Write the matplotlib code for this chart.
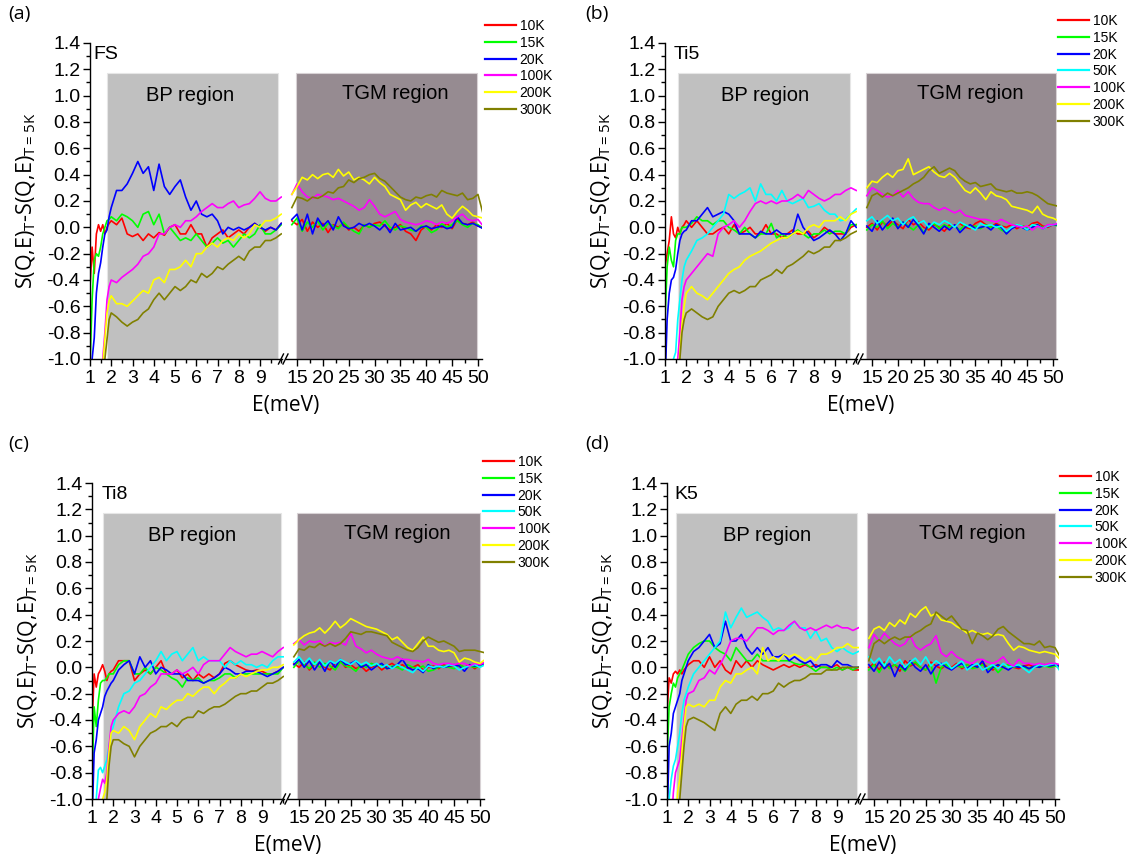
import matplotlib
matplotlib.use("Agg")
import matplotlib.pyplot as plt
from matplotlib.lines import Line2D
from matplotlib.ticker import FixedLocator, FuncFormatter

plt.rcParams['font.family'] = ['Liberation Sans', 'DejaVu Sans']
plt.rcParams['axes.unicode_minus'] = False

# ---------------- x grids (meV) ----------------
E_LEFT = [1.0, 1.1, 1.2, 1.3, 1.4, 1.5, 1.6, 1.7, 1.8, 1.9, 2.0,
          2.25, 2.5, 2.75, 3.0, 3.25, 3.5, 3.75, 4.0, 4.25, 4.5, 4.75, 5.0,
          5.25, 5.5, 5.75, 6.0, 6.25, 6.5, 6.75, 7.0, 7.25, 7.5, 7.75, 8.0,
          8.25, 8.5, 8.75, 9.0, 9.25, 9.5, 9.75, 10.0]
E_RIGHT = [14, 15, 16, 17, 18, 19, 20, 21, 22, 23, 24, 25, 26, 27, 28, 29, 30,
           31, 32, 33, 34, 35, 36, 37, 38, 39, 40, 41, 42, 43, 44, 45, 46, 47,
           48, 49, 50, 51]

TEMPS = ['10K', '15K', '20K', '50K', '100K', '200K', '300K']
COLORS = {'10K': '#ff0000', '15K': '#00ff00', '20K': '#0000ff', '50K': '#00ffff',
          '100K': '#ff00ff', '200K': '#ffff00', '300K': '#808000'}

# ---------------- (a) FS ----------------
FS_10K_L = [-0.45, -0.15, -0.35, -0.05, 0.02, -0.03, 0.02, -0.05, 0.00, 0.03, 0.05,
            0.02, 0.07, -0.05, -0.07, -0.05, -0.10, -0.05, -0.08, -0.04, -0.06, 0.00, 0.02, -0.05, -0.05, 0.02,
            -0.05, -0.05, -0.15, -0.08, -0.05, -0.02, -0.08, -0.05, -0.02, -0.05, 0.00, 0.03, 0.00, -0.03, 0.00, -0.02, 0.03]
FS_15K_L = [-1.05, -0.55, -0.25, -0.20, -0.22, -0.15, -0.05, 0.00, 0.05, 0.06, 0.08,
            0.05, 0.10, 0.08, 0.05, 0.00, 0.10, 0.12, 0.02, 0.10, -0.05, 0.00, -0.05, -0.10, -0.08, -0.10,
            -0.05, -0.10, -0.15, -0.12, -0.08, -0.12, -0.10, -0.15, -0.10, -0.05, -0.08, -0.05, 0.02, -0.05, -0.05, -0.02, 0.02]
FS_20K_L = [-1.20, -1.00, -0.84, -0.50, -0.35, -0.27, -0.15, -0.05, -0.02, 0.08, 0.15,
            0.28, 0.28, 0.33, 0.41, 0.50, 0.41, 0.46, 0.28, 0.48, 0.31, 0.25, 0.31, 0.36, 0.23, 0.13,
            0.20, 0.10, 0.08, 0.10, 0.05, -0.05, 0.00, -0.02, 0.00, -0.02, 0.00, 0.03, 0.00, -0.02, 0.00, -0.02, 0.03]
FS_100K_L = [-1.20, -1.20, -1.20, -1.20, -1.20, -1.20, -1.00, -0.80, -0.55, -0.45, -0.40,
             -0.42, -0.38, -0.35, -0.32, -0.28, -0.22, -0.20, -0.15, -0.05, -0.05, 0.00, 0.02, 0.00, 0.05, 0.05,
             0.08, 0.12, 0.15, 0.18, 0.15, 0.15, 0.18, 0.20, 0.15, 0.17, 0.18, 0.22, 0.27, 0.22, 0.20, 0.20, 0.23]
FS_200K_L = [-1.20, -1.20, -1.20, -1.20, -1.20, -1.20, -1.05, -0.85, -0.65, -0.56, -0.52,
             -0.58, -0.58, -0.60, -0.56, -0.52, -0.48, -0.50, -0.40, -0.38, -0.42, -0.32, -0.32, -0.30, -0.25, -0.30,
             -0.20, -0.20, -0.15, -0.12, -0.15, -0.10, -0.08, -0.10, -0.05, -0.08, -0.05, 0.02, 0.00, 0.05, 0.05, 0.07, 0.10]
FS_300K_L = [-1.20, -1.20, -1.20, -1.20, -1.20, -1.20, -1.20, -1.00, -0.85, -0.70, -0.65,
             -0.68, -0.72, -0.75, -0.72, -0.70, -0.65, -0.62, -0.55, -0.50, -0.55, -0.50, -0.45, -0.48, -0.45, -0.40,
             -0.42, -0.35, -0.38, -0.35, -0.30, -0.32, -0.28, -0.25, -0.22, -0.25, -0.18, -0.15, -0.15, -0.10, -0.10, -0.08, -0.05]

FS_10K_R = [0.05, 0.02, 0.06, -0.03, 0.04, 0.00, 0.03, -0.04, 0.02, 0.00,
            0.03, -0.02, 0.00, -0.03, 0.02, 0.00, 0.03, 0.04, 0.01, -0.02,
            0.00, 0.02, -0.03, -0.05, -0.10, -0.02, 0.01, -0.02, 0.02, 0.00,
            0.03, -0.01, 0.06, 0.03, 0.02, 0.04, 0.01, 0.00]
FS_15K_R = [0.02, 0.07, -0.03, 0.04, 0.00, 0.05, -0.02, 0.03, 0.01, -0.01,
            0.04, 0.00, -0.03, -0.05, 0.02, 0.00, 0.02, 0.01, 0.05, 0.00,
            -0.02, 0.01, 0.00, -0.02, -0.03, 0.01, 0.00, -0.04, -0.02, 0.03,
            0.00, 0.02, 0.05, 0.02, 0.00, 0.03, 0.02, -0.01]
FS_20K_R = [0.06, 0.10, -0.02, 0.10, -0.05, 0.07, 0.01, 0.05, -0.02, 0.08,
            0.01, -0.01, 0.00, 0.03, 0.01, 0.03, 0.01, -0.02, 0.02, -0.04,
            0.03, -0.02, -0.01, 0.00, -0.03, 0.00, 0.01, -0.01, 0.00, 0.01,
            -0.01, 0.00, 0.08, 0.03, 0.02, 0.03, 0.01, -0.01]
FS_100K_R = [0.25, 0.33, 0.27, 0.23, 0.22, 0.25, 0.24, 0.23, 0.21, 0.22,
             0.20, 0.18, 0.16, 0.13, 0.15, 0.21, 0.16, 0.10, 0.08, 0.10,
             0.12, 0.06, 0.04, 0.03, 0.02, 0.03, 0.05, 0.04, 0.02, 0.04,
             0.03, 0.05, 0.08, 0.10, 0.06, 0.05, 0.06, 0.01]
FS_200K_R = [0.25, 0.31, 0.38, 0.36, 0.40, 0.37, 0.40, 0.41, 0.38, 0.44,
             0.39, 0.42, 0.36, 0.38, 0.36, 0.33, 0.38, 0.34, 0.31, 0.25,
             0.23, 0.21, 0.13, 0.17, 0.19, 0.15, 0.18, 0.16, 0.14, 0.17,
             0.10, 0.07, 0.12, 0.16, 0.13, 0.09, 0.08, 0.07]
FS_300K_R = [0.15, 0.23, 0.22, 0.20, 0.23, 0.22, 0.24, 0.27, 0.26, 0.30,
             0.31, 0.36, 0.34, 0.37, 0.38, 0.40, 0.41, 0.37, 0.35, 0.31,
             0.27, 0.23, 0.21, 0.20, 0.23, 0.22, 0.24, 0.25, 0.23, 0.28,
             0.26, 0.25, 0.24, 0.26, 0.21, 0.22, 0.25, 0.10]

# ---------------- (b) Ti5 ----------------
TI5_10K_L = [-0.30, -0.20, -0.10, 0.08, -0.05, -0.08, 0.00, -0.05, 0.00, 0.02, 0.05,
             0.00, 0.05, 0.00, -0.05, -0.05, -0.02, 0.00, -0.05, 0.02, -0.05, -0.03, 0.00, -0.05, -0.05, 0.02,
             -0.05, -0.05, -0.08, -0.05, -0.02, -0.05, -0.05, -0.03, -0.08, -0.05, 0.00, -0.03, -0.05, -0.05, -0.05, 0.00, 0.02]
TI5_15K_L = [-0.70, -0.30, -0.15, -0.25, -0.30, -0.10, -0.05, -0.05, 0.00, 0.00, 0.00,
             0.03, 0.08, 0.05, 0.05, 0.02, 0.05, 0.05, 0.00, -0.02, -0.05, 0.00, -0.05, -0.08, -0.05, -0.05,
             0.03, -0.08, -0.05, -0.08, -0.05, -0.02, -0.05, -0.08, -0.05, -0.05, -0.02, -0.05, -0.03, -0.03, -0.05, 0.02, 0.02]
TI5_20K_L = [-1.20, -0.70, -0.50, -0.40, -0.38, -0.32, -0.20, -0.10, -0.05, -0.03, -0.02,
             0.05, 0.05, 0.10, 0.15, 0.08, 0.10, 0.12, 0.10, 0.05, -0.05, -0.05, -0.05, -0.08, -0.03, -0.05,
             -0.05, -0.02, -0.05, -0.05, -0.05, 0.10, 0.00, -0.05, -0.10, -0.08, -0.05, -0.02, -0.05, -0.10, -0.05, 0.05, 0.00]
TI5_50K_L = [-1.20, -1.20, -1.20, -1.20, -1.00, -0.95, -0.70, -0.55, -0.40, -0.30, -0.25,
             -0.18, -0.10, -0.08, -0.05, 0.00, 0.05, 0.10, 0.25, 0.22, 0.25, 0.27, 0.30, 0.20, 0.33, 0.25,
             0.25, 0.20, 0.28, 0.20, 0.18, 0.20, 0.22, 0.15, 0.16, 0.18, 0.13, 0.10, 0.10, 0.05, 0.06, 0.10, 0.14]
TI5_100K_L = [-1.20, -1.20, -1.20, -1.20, -1.20, -1.20, -1.00, -0.80, -0.55, -0.45, -0.40,
              -0.35, -0.30, -0.25, -0.20, -0.22, -0.05, 0.00, 0.02, 0.05, 0.00, 0.05, 0.12, 0.18, 0.20, 0.18,
              0.20, 0.18, 0.20, 0.20, 0.22, 0.25, 0.22, 0.28, 0.25, 0.22, 0.20, 0.22, 0.25, 0.25, 0.28, 0.30, 0.28]
TI5_200K_L = [-1.20, -1.20, -1.20, -1.20, -1.20, -1.20, -1.20, -0.95, -0.75, -0.60, -0.50,
              -0.45, -0.50, -0.52, -0.55, -0.50, -0.45, -0.40, -0.35, -0.32, -0.30, -0.25, -0.22, -0.20, -0.18, -0.15,
              -0.12, -0.10, -0.08, -0.08, -0.05, -0.03, -0.05, 0.00, 0.02, 0.00, 0.05, 0.05, 0.05, 0.08, 0.05, 0.10, 0.12]
TI5_300K_L = [-1.20, -1.20, -1.20, -1.20, -1.20, -1.20, -1.20, -1.00, -0.80, -0.70, -0.65,
              -0.62, -0.65, -0.68, -0.70, -0.68, -0.60, -0.55, -0.50, -0.48, -0.50, -0.48, -0.45, -0.45, -0.40, -0.38,
              -0.36, -0.32, -0.35, -0.30, -0.28, -0.25, -0.22, -0.18, -0.20, -0.18, -0.15, -0.15, -0.10, -0.10, -0.08, -0.05, -0.03]

TI5_10K_R = [0.00, 0.03, -0.02, 0.04, 0.01, 0.05, 0.02, -0.01, 0.06, 0.02,
             0.04, 0.00, -0.02, 0.02, 0.00, -0.03, 0.02, 0.01, 0.03, 0.00,
             -0.01, 0.03, 0.05, 0.02, 0.00, 0.03, 0.01, 0.00, 0.02, -0.01,
             0.01, 0.00, 0.03, 0.04, 0.01, 0.00, 0.02, 0.02]
TI5_15K_R = [-0.02, 0.02, 0.00, 0.05, -0.01, 0.03, 0.00, 0.04, 0.01, -0.02,
             0.02, -0.04, 0.01, 0.03, -0.01, 0.02, 0.00, 0.01, -0.02, 0.02,
             0.00, 0.01, -0.01, 0.02, 0.00, 0.01, -0.02, -0.04, 0.00, 0.02,
             0.01, 0.00, 0.01, 0.02, 0.00, 0.01, 0.02, 0.01]
TI5_20K_R = [0.01, -0.03, 0.05, -0.02, 0.03, 0.07, -0.01, 0.04, 0.00, 0.06,
             0.01, -0.05, 0.03, 0.00, -0.03, 0.01, -0.02, 0.02, -0.04, 0.00,
             0.02, -0.01, 0.00, 0.01, -0.02, 0.02, 0.00, -0.05, -0.01, 0.01,
             0.00, -0.02, 0.00, 0.02, -0.01, 0.01, 0.02, 0.02]
TI5_50K_R = [0.05, 0.08, 0.03, 0.06, 0.09, 0.05, 0.07, 0.02, 0.06, 0.08,
             0.03, 0.05, 0.00, 0.04, 0.02, 0.05, 0.03, 0.00, 0.04, 0.02,
             0.00, -0.02, 0.03, 0.01, 0.02, 0.00, 0.01, -0.03, 0.00, 0.02,
             0.01, -0.02, 0.02, 0.01, -0.01, 0.01, 0.02, 0.03]
TI5_100K_R = [0.24, 0.30, 0.28, 0.25, 0.23, 0.24, 0.28, 0.23, 0.27, 0.22,
              0.19, 0.18, 0.18, 0.15, 0.13, 0.15, 0.13, 0.11, 0.13, 0.09,
              0.08, 0.07, 0.06, 0.06, 0.05, 0.04, 0.06, 0.04, 0.02, 0.01,
              0.00, 0.01, -0.02, 0.01, -0.01, 0.02, 0.02, 0.03]
TI5_200K_R = [0.30, 0.35, 0.34, 0.38, 0.41, 0.38, 0.43, 0.44, 0.52, 0.40,
              0.42, 0.44, 0.46, 0.42, 0.39, 0.38, 0.41, 0.38, 0.33, 0.28,
              0.26, 0.30, 0.26, 0.21, 0.27, 0.24, 0.23, 0.21, 0.16, 0.15,
              0.14, 0.13, 0.11, 0.16, 0.10, 0.08, 0.07, 0.05]
TI5_300K_R = [0.15, 0.24, 0.26, 0.23, 0.26, 0.24, 0.26, 0.28, 0.30, 0.33,
              0.35, 0.38, 0.43, 0.46, 0.41, 0.43, 0.45, 0.43, 0.38, 0.35,
              0.33, 0.34, 0.31, 0.32, 0.33, 0.29, 0.28, 0.27, 0.28, 0.26,
              0.26, 0.27, 0.26, 0.24, 0.21, 0.18, 0.17, 0.16]

# ---------------- (c) Ti8 ----------------
TI8_10K_L = [-0.45, -0.05, -0.15, -0.05, -0.02, 0.02, -0.03, -0.10, -0.05, -0.03, -0.02,
             0.05, 0.05, 0.05, -0.10, -0.05, -0.02, -0.05, 0.00, 0.05, -0.05, -0.05, -0.02, -0.08, -0.05, -0.10,
             -0.05, -0.08, -0.05, -0.08, -0.05, 0.03, 0.05, 0.02, 0.00, -0.02, -0.03, -0.02, -0.03, -0.05, -0.05, -0.03, 0.00]
TI8_15K_L = [-0.90, -0.30, -0.45, -0.25, -0.12, -0.10, -0.10, -0.08, -0.05, -0.05, -0.05,
             0.02, 0.05, 0.05, -0.05, -0.05, 0.00, -0.05, 0.00, -0.02, -0.05, -0.08, -0.10, -0.15, -0.08, -0.10,
             -0.08, -0.12, -0.10, -0.10, -0.08, -0.05, -0.05, -0.08, -0.05, -0.05, -0.05, -0.05, -0.05, -0.05, -0.05, -0.05, 0.00]
TI8_20K_L = [-1.20, -0.65, -0.55, -0.40, -0.35, -0.30, -0.22, -0.18, -0.15, -0.12, -0.10,
             -0.02, 0.02, 0.05, -0.05, 0.08, 0.00, 0.05, -0.05, 0.00, -0.02, -0.05, -0.05, -0.05, -0.10, -0.10,
             -0.10, -0.12, -0.10, -0.08, -0.05, 0.00, -0.02, -0.05, -0.05, -0.03, -0.03, -0.03, -0.05, -0.07, -0.05, -0.03, 0.00]
TI8_50K_L = [-1.20, -1.20, -1.00, -0.78, -0.76, -0.80, -0.75, -0.70, -0.60, -0.50, -0.45,
             -0.30, -0.20, -0.18, -0.12, -0.10, -0.05, 0.00, 0.05, 0.12, 0.05, 0.10, 0.12, 0.05, 0.10, 0.15,
             0.05, 0.08, 0.05, 0.05, 0.05, 0.00, 0.05, 0.02, 0.05, 0.02, 0.02, 0.00, 0.02, 0.00, 0.05, 0.08, 0.08]
TI8_100K_L = [-1.20, -1.20, -1.20, -1.00, -0.92, -0.85, -0.88, -0.80, -0.60, -0.45, -0.40,
              -0.35, -0.33, -0.35, -0.30, -0.22, -0.20, -0.15, -0.12, -0.05, -0.05, -0.05, -0.02, -0.05, -0.03, 0.00,
              -0.05, 0.02, 0.05, 0.05, 0.05, 0.10, 0.15, 0.12, 0.10, 0.08, 0.10, 0.10, 0.12, 0.10, 0.08, 0.12, 0.15]
TI8_200K_L = [-1.20, -1.20, -1.20, -1.20, -1.20, -1.00, -0.95, -0.85, -0.65, -0.50, -0.48,
              -0.50, -0.45, -0.48, -0.55, -0.45, -0.40, -0.35, -0.38, -0.30, -0.32, -0.28, -0.25, -0.25, -0.20, -0.22,
              -0.18, -0.15, -0.15, -0.20, -0.15, -0.12, -0.08, -0.08, -0.05, -0.07, -0.05, -0.03, -0.02, -0.02, 0.00, 0.00, 0.02]
TI8_300K_L = [-1.20, -1.20, -1.20, -1.20, -1.20, -1.20, -1.20, -1.00, -0.75, -0.60, -0.55,
              -0.55, -0.58, -0.60, -0.68, -0.60, -0.55, -0.50, -0.48, -0.45, -0.45, -0.42, -0.45, -0.40, -0.38, -0.38,
              -0.33, -0.35, -0.32, -0.30, -0.30, -0.28, -0.25, -0.22, -0.20, -0.20, -0.18, -0.18, -0.15, -0.12, -0.12, -0.10, -0.07]

TI8_10K_R = [0.03, 0.00, 0.04, -0.02, 0.02, 0.05, 0.00, -0.02, 0.03, 0.05,
             0.00, 0.02, -0.01, 0.01, -0.03, 0.00, 0.02, -0.02, 0.01, 0.03,
             0.00, 0.02, -0.01, 0.00, 0.02, -0.02, 0.00, 0.01, -0.01, 0.02,
             0.00, 0.01, 0.02, 0.00, 0.02, -0.01, 0.02, 0.04]
TI8_15K_R = [0.00, 0.05, 0.02, -0.01, 0.04, 0.00, 0.03, 0.01, -0.02, 0.04,
             0.01, 0.00, -0.03, 0.02, 0.00, 0.03, 0.01, 0.02, -0.01, 0.01,
             0.00, -0.02, 0.02, 0.00, -0.01, 0.01, -0.03, -0.02, 0.00, 0.01,
             0.00, -0.01, 0.02, 0.00, 0.01, 0.00, 0.01, 0.03]
TI8_20K_R = [0.02, 0.06, 0.00, 0.05, -0.02, 0.04, -0.03, 0.05, 0.00, 0.06,
             0.02, 0.03, 0.05, 0.00, 0.02, -0.02, 0.01, 0.03, -0.01, 0.00,
             0.02, 0.06, 0.00, -0.02, -0.01, -0.04, 0.02, -0.01, 0.01, 0.00,
             0.01, 0.02, 0.01, -0.03, 0.02, 0.01, 0.02, 0.03]
TI8_50K_R = [0.04, 0.08, 0.03, 0.07, 0.02, 0.06, 0.01, 0.05, 0.03, 0.06,
             0.04, 0.02, 0.05, 0.02, 0.04, 0.01, 0.03, 0.00, 0.02, -0.01,
             0.02, 0.00, -0.02, -0.04, 0.00, -0.03, 0.01, 0.00, 0.01, 0.00,
             0.02, 0.01, -0.02, 0.00, 0.01, 0.02, 0.00, 0.02]
TI8_100K_R = [0.18, 0.21, 0.17, 0.20, 0.19, 0.20, 0.16, 0.19, 0.18, 0.19,
              0.17, 0.26, 0.16, 0.14, 0.11, 0.13, 0.10, 0.08, 0.07, 0.06,
              0.08, 0.06, 0.06, 0.05, 0.05, 0.04, 0.06, 0.03, 0.02, 0.03,
              0.03, 0.02, 0.03, 0.03, 0.01, 0.03, 0.02, 0.04]
TI8_200K_R = [0.17, 0.21, 0.24, 0.26, 0.27, 0.30, 0.26, 0.30, 0.35, 0.30,
              0.33, 0.37, 0.35, 0.33, 0.31, 0.30, 0.29, 0.27, 0.25, 0.21,
              0.23, 0.19, 0.15, 0.13, 0.18, 0.23, 0.16, 0.16, 0.13, 0.12,
              0.13, 0.11, 0.04, 0.07, 0.06, 0.04, 0.03, 0.06]
TI8_300K_R = [0.08, 0.14, 0.13, 0.16, 0.15, 0.18, 0.16, 0.18, 0.16, 0.18,
              0.22, 0.27, 0.26, 0.25, 0.27, 0.27, 0.26, 0.25, 0.24, 0.19,
              0.17, 0.15, 0.13, 0.12, 0.15, 0.20, 0.23, 0.21, 0.19, 0.20,
              0.18, 0.16, 0.12, 0.13, 0.13, 0.13, 0.12, 0.11]

# ---------------- (d) K5 ----------------
K5_10K_L = [-0.35, -0.08, -0.12, -0.05, -0.03, -0.05, -0.02, -0.05, -0.02, 0.00, 0.02,
            0.05, 0.05, 0.00, 0.08, 0.00, 0.05, -0.02, -0.05, 0.05, 0.00, 0.05, 0.00, 0.05, 0.02, 0.00,
            -0.02, 0.00, 0.02, 0.00, 0.02, 0.00, 0.02, 0.00, 0.02, 0.00, 0.00, 0.00, 0.02, -0.02, 0.00, -0.02, -0.02]
K5_15K_L = [-0.70, -0.30, -0.20, -0.12, -0.15, -0.08, -0.05, -0.02, 0.02, 0.06, 0.10,
            0.15, 0.18, 0.20, 0.20, 0.15, 0.12, 0.10, 0.05, 0.15, 0.10, 0.05, 0.05, 0.10, 0.05, 0.05,
            0.05, 0.05, 0.05, 0.05, 0.03, 0.02, 0.03, 0.00, -0.03, 0.00, 0.00, -0.02, 0.00, -0.02, 0.00, -0.02, 0.00]
K5_20K_L = [-1.20, -0.60, -0.50, -0.35, -0.30, -0.25, -0.20, -0.10, -0.05, 0.00, 0.05,
            0.12, 0.15, 0.20, 0.25, 0.15, 0.18, 0.35, 0.20, 0.20, 0.25, 0.15, 0.10, 0.15, 0.10, 0.15,
            0.08, 0.08, 0.10, 0.05, 0.08, 0.05, 0.03, 0.05, 0.00, 0.02, 0.02, 0.00, 0.05, 0.02, 0.02, 0.00, 0.00]
K5_50K_L = [-1.20, -1.00, -0.85, -0.75, -0.70, -0.60, -0.50, -0.35, -0.25, -0.20, -0.15,
            -0.05, 0.00, 0.05, 0.10, 0.15, 0.20, 0.42, 0.30, 0.38, 0.45, 0.38, 0.40, 0.42, 0.38, 0.35,
            0.28, 0.30, 0.28, 0.30, 0.35, 0.30, 0.30, 0.22, 0.28, 0.20, 0.22, 0.15, 0.12, 0.15, 0.12, 0.10, 0.12]
K5_100K_L = [-1.20, -1.20, -1.20, -0.95, -0.80, -0.75, -0.70, -0.55, -0.40, -0.25, -0.20,
             -0.18, -0.10, -0.08, -0.02, -0.05, 0.02, 0.10, 0.20, 0.22, 0.22, 0.20, 0.25, 0.30, 0.30, 0.28,
             0.25, 0.28, 0.28, 0.32, 0.35, 0.30, 0.28, 0.30, 0.28, 0.30, 0.32, 0.30, 0.32, 0.30, 0.30, 0.28, 0.30]
K5_200K_L = [-1.20, -1.20, -1.20, -1.20, -1.20, -0.95, -0.85, -0.65, -0.45, -0.30, -0.28,
             -0.30, -0.28, -0.30, -0.25, -0.25, -0.15, -0.10, -0.12, -0.05, -0.05, -0.02, 0.00, -0.05, 0.15, 0.05,
             0.08, 0.05, 0.10, 0.08, 0.10, 0.08, 0.05, 0.08, 0.05, 0.10, 0.10, 0.12, 0.15, 0.15, 0.18, 0.15, 0.15]
K5_300K_L = [-1.20, -1.20, -1.20, -1.20, -1.20, -1.20, -1.00, -0.80, -0.60, -0.45, -0.40,
             -0.38, -0.40, -0.42, -0.45, -0.48, -0.35, -0.30, -0.35, -0.28, -0.25, -0.25, -0.22, -0.25, -0.20, -0.20,
             -0.18, -0.12, -0.15, -0.12, -0.10, -0.10, -0.08, -0.05, -0.05, -0.05, -0.02, -0.02, -0.02, 0.00, 0.00, 0.00, 0.00]

K5_10K_R = [0.00, 0.03, -0.02, 0.04, 0.00, 0.02, -0.03, 0.05, 0.01, 0.03,
            0.00, -0.02, 0.04, 0.01, -0.01, 0.02, 0.00, 0.03, -0.01, 0.02,
            0.00, 0.01, 0.03, 0.00, -0.02, 0.01, 0.00, 0.02, 0.00, -0.01,
            0.01, 0.02, 0.00, 0.01, 0.02, 0.00, 0.01, 0.00]
K5_15K_R = [-0.02, 0.02, -0.04, 0.03, -0.01, 0.02, 0.00, -0.03, 0.02, 0.04,
            0.00, -0.02, 0.02, -0.12, 0.00, 0.02, -0.01, 0.01, 0.00, 0.02,
            -0.01, 0.00, 0.02, -0.02, 0.01, -0.04, 0.00, 0.02, 0.00, 0.01,
            0.00, -0.01, 0.01, 0.00, 0.01, 0.00, 0.01, 0.01]
K5_20K_R = [0.02, -0.03, 0.04, -0.01, 0.03, -0.07, 0.02, -0.02, 0.05, 0.00,
            -0.03, 0.02, -0.05, 0.01, 0.03, 0.00, -0.02, 0.01, 0.03, -0.01,
            0.02, 0.00, 0.05, -0.04, 0.00, 0.02, 0.00, -0.02, 0.01, 0.00,
            0.01, -0.01, 0.01, 0.00, 0.02, 0.01, 0.02, 0.01]
K5_50K_R = [0.08, 0.03, 0.07, 0.01, 0.08, 0.03, 0.06, 0.00, 0.04, 0.07,
            0.02, 0.08, 0.01, 0.05, 0.02, 0.04, -0.01, 0.02, 0.05, -0.02,
            0.01, 0.03, -0.02, 0.00, 0.02, -0.01, 0.03, 0.00, 0.01, 0.02,
            -0.01, -0.04, 0.00, 0.02, 0.01, 0.02, 0.03, -0.03]
K5_100K_R = [0.15, 0.25, 0.20, 0.26, 0.22, 0.18, 0.16, 0.18, 0.24, 0.16,
             0.13, 0.16, 0.18, 0.24, 0.11, 0.08, 0.12, 0.08, 0.06, 0.04,
             0.03, 0.06, 0.06, 0.04, 0.03, 0.05, 0.08, 0.03, 0.01, 0.06,
             0.03, 0.03, 0.02, 0.03, 0.02, 0.03, 0.03, 0.02]
K5_200K_R = [0.22, 0.29, 0.31, 0.28, 0.34, 0.31, 0.36, 0.33, 0.41, 0.38,
             0.43, 0.46, 0.39, 0.41, 0.36, 0.35, 0.34, 0.31, 0.29, 0.26,
             0.28, 0.26, 0.25, 0.26, 0.24, 0.25, 0.24, 0.18, 0.13, 0.16,
             0.15, 0.13, 0.12, 0.11, 0.12, 0.11, 0.10, 0.06]
K5_300K_R = [0.05, 0.18, 0.21, 0.18, 0.21, 0.23, 0.21, 0.23, 0.23, 0.26,
             0.28, 0.31, 0.33, 0.42, 0.39, 0.36, 0.39, 0.34, 0.29, 0.28,
             0.18, 0.26, 0.24, 0.21, 0.24, 0.29, 0.31, 0.27, 0.24, 0.21,
             0.18, 0.18, 0.17, 0.20, 0.15, 0.16, 0.15, 0.08]

# ---------------- tick positions / labels ----------------
X_MAJOR_L = [1, 2, 3, 4, 5, 6, 7, 8, 9]
X_MINOR_L = [1.5, 2.5, 3.5, 4.5, 5.5, 6.5, 7.5, 8.5, 9.5, 10.0]
X_MAJOR_R = [15, 20, 25, 30, 35, 40, 45, 50]
X_MINOR_R = [17.5, 22.5, 27.5, 32.5, 37.5, 42.5, 47.5]
Y_MAJOR = [-1.0, -0.8, -0.6, -0.4, -0.2, 0.0, 0.2, 0.4, 0.6, 0.8, 1.0, 1.2, 1.4]
Y_MINOR = [-0.9, -0.7, -0.5, -0.3, -0.1, 0.1, 0.3, 0.5, 0.7, 0.9, 1.1, 1.3]

PANELS = [
    dict(letter='(a)', name='FS', L=90, T=43, name_x=1.14,
         temps=['10K', '15K', '20K', '100K', '200K', '300K'],
         data={'10K': (FS_10K_L, FS_10K_R), '15K': (FS_15K_L, FS_15K_R),
               '20K': (FS_20K_L, FS_20K_R), '100K': (FS_100K_L, FS_100K_R),
               '200K': (FS_200K_L, FS_200K_R), '300K': (FS_300K_L, FS_300K_R)},
         bp=(1.8, 9.85), tgm=(14.9, 49.9), leg=(485, 19), letter_xy=(8, 14)),
    dict(letter='(b)', name='Ti5', L=665, T=43, name_x=1.4,
         temps=TEMPS,
         data={'10K': (TI5_10K_L, TI5_10K_R), '15K': (TI5_15K_L, TI5_15K_R),
               '20K': (TI5_20K_L, TI5_20K_R), '50K': (TI5_50K_L, TI5_50K_R),
               '100K': (TI5_100K_L, TI5_100K_R), '200K': (TI5_200K_L, TI5_200K_R),
               '300K': (TI5_300K_L, TI5_300K_R)},
         bp=(1.6, 9.7), tgm=(13.8, 50.5), leg=(1058, 14), letter_xy=(585, 14)),
    dict(letter='(c)', name='Ti8', L=92, T=483, name_x=1.47,
         temps=TEMPS,
         data={'10K': (TI8_10K_L, TI8_10K_R), '15K': (TI8_15K_L, TI8_15K_R),
               '20K': (TI8_20K_L, TI8_20K_R), '50K': (TI8_50K_L, TI8_50K_R),
               '100K': (TI8_100K_L, TI8_100K_R), '200K': (TI8_200K_L, TI8_200K_R),
               '300K': (TI8_300K_L, TI8_300K_R)},
         bp=(1.52, 9.9), tgm=(14.6, 50.0), leg=(483, 455), letter_xy=(8, 444)),
    dict(letter='(d)', name='K5', L=667, T=483, name_x=1.37,
         temps=TEMPS,
         data={'10K': (K5_10K_L, K5_10K_R), '15K': (K5_15K_L, K5_15K_R),
               '20K': (K5_20K_L, K5_20K_R), '50K': (K5_50K_L, K5_50K_R),
               '100K': (K5_100K_L, K5_100K_R), '200K': (K5_200K_L, K5_200K_R),
               '300K': (K5_300K_L, K5_300K_R)},
         bp=(1.42, 9.93), tgm=(13.6, 50.0), leg=(1060, 470), letter_xy=(585, 444)),
]

BP_COLOR = '#c0c0c0'
TGM_COLOR = '#968b91'
SHADE_TOP = 1.17

W, H = 1129, 856
fig = plt.figure(figsize=(W / 100, H / 100), dpi=100)

AX_H = 316
LEFT_W = 192
RIGHT_OFF = 196
RIGHT_W = 196


def px_axes(l, t, w, h):
    return fig.add_axes([l / W, 1 - (t + h) / H, w / W, h / H])


def fy(ypx):
    return 1 - ypx / H


int_fmt = FuncFormatter(lambda v, pos: f"{v:.0f}")
dec_fmt = FuncFormatter(lambda v, pos: f"{v:.1f}")

for p in PANELS:
    L, T = p['L'], p['T']
    axL = px_axes(L, T, LEFT_W, AX_H)
    axR = px_axes(L + RIGHT_OFF, T, RIGHT_W, AX_H)
    for ax in (axL, axR):
        ax.set_ylim(-1.0, 1.4)
        ax.patch.set_alpha(0)
        for s in ('top', 'right'):
            ax.spines[s].set_visible(False)
        for s in ('left', 'bottom'):
            ax.spines[s].set_linewidth(1.0)
        ax.tick_params(which='major', direction='out', length=5, width=1.0,
                       labelsize=14, pad=3)
        ax.tick_params(which='minor', direction='out', length=3, width=1.0)
    axR.spines['left'].set_visible(False)
    axR.tick_params(axis='y', which='both', left=False, labelleft=False)
    axL.tick_params(axis='y', which='major', pad=2)

    axL.set_xlim(1.0, 10.035)
    axR.set_xlim(12.87, 50.78)

    axL.xaxis.set_major_locator(FixedLocator(X_MAJOR_L))
    axL.xaxis.set_minor_locator(FixedLocator(X_MINOR_L))
    axL.xaxis.set_major_formatter(int_fmt)
    axR.xaxis.set_major_locator(FixedLocator(X_MAJOR_R))
    axR.xaxis.set_minor_locator(FixedLocator(X_MINOR_R))
    axR.xaxis.set_major_formatter(int_fmt)
    axL.yaxis.set_major_locator(FixedLocator(Y_MAJOR))
    axL.yaxis.set_minor_locator(FixedLocator(Y_MINOR))
    axL.yaxis.set_major_formatter(dec_fmt)

    ytop = (SHADE_TOP + 1.0) / 2.4
    axL.axvspan(p['bp'][0], p['bp'][1], ymin=0, ymax=ytop, facecolor=BP_COLOR,
                edgecolor='#e6e6e6', lw=0.8, zorder=0)
    axR.axvspan(p['tgm'][0], p['tgm'][1], ymin=0, ymax=ytop, facecolor=TGM_COLOR,
                edgecolor='#d8d2d5', lw=0.8, zorder=0)

    handles = []
    for t in p['temps']:
        yl, yr = p['data'][t]
        assert len(yl) == len(E_LEFT), (p['name'], t, 'L', len(yl))
        assert len(yr) == len(E_RIGHT), (p['name'], t, 'R', len(yr))
        axL.plot(E_LEFT, yl, color=COLORS[t], lw=1.2, zorder=2)
        axR.plot(E_RIGHT, yr, color=COLORS[t], lw=1.2, zorder=2)
        handles.append(Line2D([], [], color=COLORS[t], lw=1.6))

    axL.text(p['name_x'], 1.31, p['name'], fontsize=14, ha='left', va='center')
    axL.text(5.7, 1.0, 'BP region', fontsize=14.5, ha='center', va='center')
    axR.text(34, 1.02, 'TGM region', fontsize=14.5, ha='center', va='center')

    axL.set_ylabel('S(Q,E)$_\\mathregular{T}$-S(Q,E)$_\\mathregular{T{=}5K}$',
                   fontsize=15.5, family=['Open Sans', 'DejaVu Sans'], labelpad=6)

    # axis-break marks
    yb = T + AX_H
    for cx in (L + 191, L + 195.5):
        fig.add_artist(Line2D([(cx - 2.5) / W, (cx + 2.5) / W],
                              [fy(yb + 5), fy(yb - 5)], color='black', lw=1.0,
                              transform=fig.transFigure))

    fig.text((L + 196) / W, fy(yb + 47), 'E(meV)', fontsize=15, ha='center',
             va='center', family=['Open Sans', 'DejaVu Sans'])
    lx, ly = p['letter_xy']
    fig.text(lx / W, fy(ly), p['letter'], fontsize=14, ha='left', va='center',
             family=['Open Sans', 'DejaVu Sans'])

    fig.legend(handles, p['temps'], loc='upper left',
               bbox_to_anchor=(p['leg'][0] / W, fy(p['leg'][1])),
               bbox_transform=fig.transFigure, frameon=False, fontsize=10,
               handlelength=2.2, handletextpad=0.3, labelspacing=0.2,
               borderpad=0, borderaxespad=0)

fig.savefig('out.png', dpi=100)
